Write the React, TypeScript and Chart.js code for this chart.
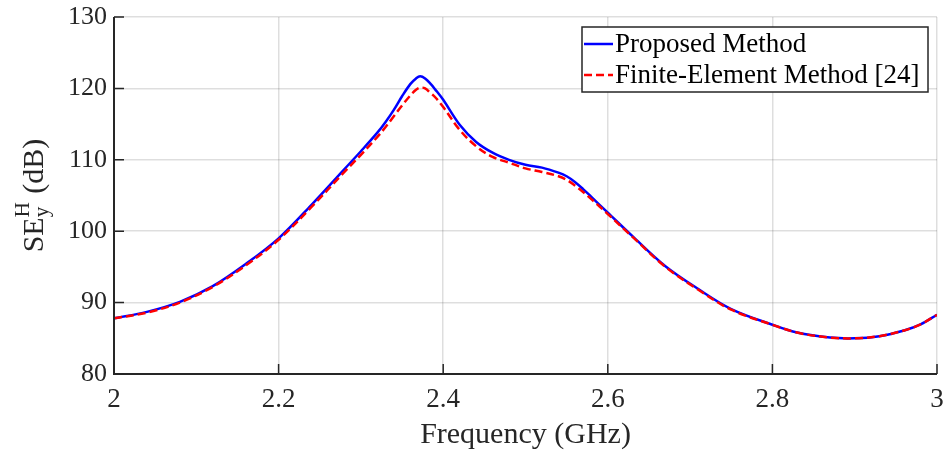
import React, { useEffect, useRef } from "react";
import { Chart, registerables } from "chart.js";
Chart.register(...registerables);

const frequencies = [2.0, 2.04, 2.08, 2.12, 2.16, 2.2, 2.24, 2.28, 2.3, 2.32, 2.33, 2.34, 2.35, 2.36, 2.367, 2.372, 2.378, 2.385, 2.39, 2.4, 2.42, 2.44, 2.46, 2.48, 2.5, 2.52, 2.54, 2.55, 2.56, 2.57, 2.58, 2.6, 2.63, 2.67, 2.71, 2.75, 2.8, 2.83, 2.87, 2.9, 2.93, 2.96, 2.98, 3.0];
const proposed = [87.8, 88.7, 90.1, 92.3, 95.4, 99.0, 103.7, 108.7, 111.2, 113.8, 115.3, 117.0, 118.9, 120.6, 121.4, 121.7, 121.4, 120.6, 119.9, 118.4, 114.9, 112.5, 111.0, 110.0, 109.3, 108.9, 108.2, 107.7, 106.9, 105.9, 104.8, 102.6, 99.3, 95.1, 91.9, 89.1, 86.9, 85.8, 85.1, 85.0, 85.3, 86.1, 86.95, 88.3];
const finiteElement = [87.8, 88.6, 90.0, 92.2, 95.2, 98.8, 103.4, 108.3, 110.7, 113.2, 114.6, 116.1, 117.6, 119.0, 119.8, 120.1, 120.0, 119.3, 118.8, 117.4, 114.2, 111.9, 110.4, 109.6, 108.8, 108.3, 107.7, 107.2, 106.4, 105.5, 104.5, 102.4, 99.2, 95.0, 91.8, 89.0, 86.9, 85.8, 85.1, 85.0, 85.3, 86.1, 86.95, 88.3];
const seriesLabels = ["Proposed Method", "Finite-Element Method [24]"];
const xTickValues = [2, 2.2, 2.4, 2.6, 2.8, 3];
const xTickLabels = ["2", "2.2", "2.4", "2.6", "2.8", "3"];
const yTickValues = [80, 90, 100, 110, 120, 130];
const yTickLabels = ["80", "90", "100", "110", "120", "130"];
const xTitle = "Frequency (GHz)";
const yTitleMain = "SE";
const yTitleSup = "H";
const yTitleSub = "y";
const yTitleUnit = " (dB)";

const FONT = "'Liberation Serif', 'Times New Roman', serif";
const AXIS_COLOR = "#262626";

const axesPlugin = {
  id: "matlabAxes",
  afterDatasetsDraw(chart: any) {
    const { ctx, chartArea } = chart;
    const xs = chart.scales.x;
    const ys = chart.scales.y;
    ctx.save();
    ctx.strokeStyle = AXIS_COLOR;
    ctx.lineWidth = 2;
    ctx.beginPath();
    ctx.moveTo(chartArea.left, chartArea.top);
    ctx.lineTo(chartArea.left, chartArea.bottom);
    ctx.lineTo(chartArea.right, chartArea.bottom);
    ctx.stroke();
    ctx.lineWidth = 1.5;
    ctx.beginPath();
    for (const v of xTickValues) {
      const px = xs.getPixelForValue(v);
      ctx.moveTo(px, chartArea.bottom);
      ctx.lineTo(px, chartArea.bottom - 10);
    }
    for (const v of yTickValues) {
      const py = ys.getPixelForValue(v);
      ctx.moveTo(chartArea.left, py);
      ctx.lineTo(chartArea.left + 10, py);
    }
    ctx.stroke();
    ctx.restore();
  },
};

const legendPlugin = {
  id: "boxLegend",
  afterDraw(chart: any) {
    const { ctx } = chart;
    const x0 = 582, y0 = 27, x1 = 928, y1 = 92;
    ctx.save();
    ctx.fillStyle = "#ffffff";
    ctx.fillRect(x0, y0, x1 - x0, y1 - y0);
    ctx.strokeStyle = AXIS_COLOR;
    ctx.lineWidth = 1.5;
    ctx.strokeRect(x0, y0, x1 - x0, y1 - y0);
    const rows = [44, 75];
    chart.data.datasets.forEach((ds: any, i: number) => {
      const y = rows[i];
      ctx.strokeStyle = ds.borderColor;
      ctx.lineWidth = 2.5;
      ctx.setLineDash(ds.borderDash || []);
      ctx.beginPath();
      ctx.moveTo(x0 + 2, y);
      ctx.lineTo(x0 + 31, y);
      ctx.stroke();
      ctx.setLineDash([]);
      ctx.fillStyle = "#000000";
      ctx.font = `27px ${FONT}`;
      ctx.textBaseline = "middle";
      ctx.textAlign = "left";
      ctx.fillText(ds.label, x0 + 33, y + 1);
    });
    ctx.restore();
  },
};

const yTitlePlugin = {
  id: "yTitle",
  afterDraw(chart: any) {
    const { ctx, chartArea } = chart;
    ctx.save();
    const cy = (chartArea.top + chartArea.bottom) / 2;
    ctx.translate(43, cy);
    ctx.rotate(-Math.PI / 2);
    ctx.fillStyle = "#262626";
    ctx.textBaseline = "alphabetic";
    ctx.textAlign = "left";
    const big = `30px ${FONT}`;
    const small = `21px ${FONT}`;
    ctx.font = big;
    const wMain = ctx.measureText(yTitleMain).width;
    const wUnit = ctx.measureText(yTitleUnit).width;
    ctx.font = small;
    const wSup = ctx.measureText(yTitleSup).width;
    const wSub = ctx.measureText(yTitleSub).width;
    const wScript = Math.max(wSup, wSub) + 1;
    const total = wMain + wScript + wUnit;
    let u = -total / 2;
    ctx.font = big;
    ctx.fillText(yTitleMain, u, 0);
    u += wMain;
    ctx.font = small;
    ctx.fillText(yTitleSup, u, -14);
    ctx.fillText(yTitleSub, u, 5);
    u += wScript;
    ctx.font = big;
    ctx.fillText(yTitleUnit, u, 0);
    ctx.restore();
  },
};

export default function App() {
  const canvasRef = useRef<HTMLCanvasElement | null>(null);
  useEffect(() => {
    if (!canvasRef.current) return;
    const chart = new Chart(canvasRef.current, {
      type: "line",
      data: {
        datasets: [
          {
            label: seriesLabels[0],
            data: frequencies.map((f, i) => ({ x: f, y: proposed[i] })),
            borderColor: "#0000ff",
            borderWidth: 2.5,
            pointRadius: 0,
            tension: 0.35,
            fill: false,
            order: 2,
          },
          {
            label: seriesLabels[1],
            data: frequencies.map((f, i) => ({ x: f, y: finiteElement[i] })),
            borderColor: "#ff0000",
            borderWidth: 2.5,
            borderDash: [8, 4],
            pointRadius: 0,
            tension: 0.35,
            fill: false,
            order: 1,
          },
        ],
      },
      options: {
        animation: false,
        responsive: false,
        maintainAspectRatio: false,
        layout: { padding: { top: 17, right: 6, left: 0, bottom: 0 } },
        plugins: { legend: { display: false }, tooltip: { enabled: false } },
        scales: {
          x: {
            type: "linear",
            min: 2,
            max: 3,
            afterBuildTicks: (s: any) => {
              s.ticks = xTickValues.map((v) => ({ value: v }));
            },
            afterFit: (s: any) => {
              s.height = 81;
              s.paddingLeft = 0;
              s.paddingRight = 0;
            },
            ticks: {
              callback: (v: any) => {
                const i = xTickValues.findIndex((t) => Math.abs(t - v) < 1e-6);
                return i >= 0 ? xTickLabels[i] : "";
              },
              color: "#262626",
              font: { family: FONT, size: 27 },
              padding: 10,
              maxRotation: 0,
            },
            grid: { color: "rgba(0,0,0,0.13)", lineWidth: 1.5, drawTicks: false },
            border: { display: false },
            title: {
              display: true,
              text: xTitle,
              color: "#262626",
              font: { family: FONT, size: 30 },
              padding: { top: 0, bottom: 2 },
            },
          },
          y: {
            type: "linear",
            min: 80,
            max: 130,
            afterBuildTicks: (s: any) => {
              s.ticks = yTickValues.map((v) => ({ value: v }));
            },
            afterFit: (s: any) => {
              s.width = 114;
              s.paddingTop = 0;
              s.paddingBottom = 0;
            },
            ticks: {
              callback: (v: any) => {
                const i = yTickValues.findIndex((t) => Math.abs(t - v) < 1e-6);
                return i >= 0 ? yTickLabels[i] : "";
              },
              color: "#262626",
              font: { family: FONT, size: 26 },
              padding: 7,
            },
            grid: { color: "rgba(0,0,0,0.13)", lineWidth: 1.5, drawTicks: false },
            border: { display: false },
          },
        },
      },
      plugins: [axesPlugin, yTitlePlugin, legendPlugin],
    } as any);
    return () => chart.destroy();
  }, []);
  return (
    <div style={{ position: "absolute", left: 0, top: 0, width: 943, height: 455, background: "#fff" }}>
      <canvas ref={canvasRef} width={943} height={455} style={{ width: 943, height: 455 }} />
    </div>
  );
}
